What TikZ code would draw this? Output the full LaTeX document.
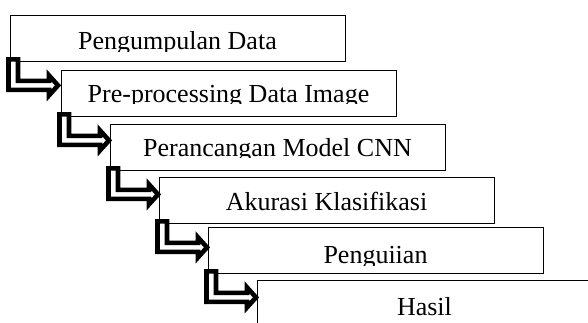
\documentclass[tikz,border=0pt]{standalone}
\usepackage{fontspec}
\setmainfont{Liberation Serif}
\usetikzlibrary{calc}
\tikzset{
  stagebox/.style={draw=black, line width=1.4pt, fill=white, rectangle, minimum width=335pt, minimum height=46pt, inner sep=0pt, anchor=north west},
  stagetext/.style={anchor=base, inner sep=0pt, font=\fontsize{26}{30}\selectfont},
  bentarrow/.style={draw=black, fill=white, line width=4.6pt, line join=miter, miter limit=10}
}
\newcommand{\bentarr}[1]{%
  \draw[bentarrow] ($(#1)+(-1.5,-3)$) -- ($(#1)+(-1.5,27.5)$) -- ($(#1)+(39,27.5)$) -- ($(#1)+(39,33)$) -- ($(#1)+(48,23)$) -- ($(#1)+(39,13)$) -- ($(#1)+(39,18.5)$) -- ($(#1)+(8,18.5)$) -- ($(#1)+(8,-3)$) -- cycle;}
\begin{document}
\begin{tikzpicture}[x=1pt,y=-1pt]
\useasboundingbox (0,0) rectangle (588,323);
\clip (0,0) rectangle (588,323);
% boxes
\node[stagebox] (b1) at (10,15) {};
\node[stagebox] (b2) at (61,70) {};
\node[stagebox] (b3) at (110,124) {};
\node[stagebox] (b4) at (159,177) {};
\node[stagebox] (b5) at (208,227) {};
\node[stagebox] (b6) at (257,280) {};
% texts (clipped at their lower part as in the reference)
\begin{scope}\clip (10,15) rectangle (345,52);
\node[stagetext] (t1) at (177.5,50) {Pengumpulan Data};\end{scope}
\begin{scope}\clip (61,70) rectangle (396,104);
\node[stagetext] (t2) at (228.5,103) {Pre-processing Data Image};\end{scope}
\begin{scope}\clip (110,124) rectangle (445,158);
\node[stagetext] (t3) at (277.5,157) {Perancangan Model CNN};\end{scope}
\begin{scope}\clip (159,177) rectangle (494,211);
\node[stagetext] (t4) at (326.5,210) {Akurasi Klasifikasi};\end{scope}
\begin{scope}\clip (208,227) rectangle (543,265);
\node[stagetext] (t5) at (375.5,263) {Penguiian};\end{scope}
\begin{scope}\clip (257,280) rectangle (592,323);
\node[stagetext] (t6) at (424.5,315) {Hasil};\end{scope}
% bent arrows
\bentarr{b1.south west}
\bentarr{b2.south west}
\bentarr{b3.south west}
\bentarr{b4.south west}
\bentarr{b5.south west}
\end{tikzpicture}
\end{document}
